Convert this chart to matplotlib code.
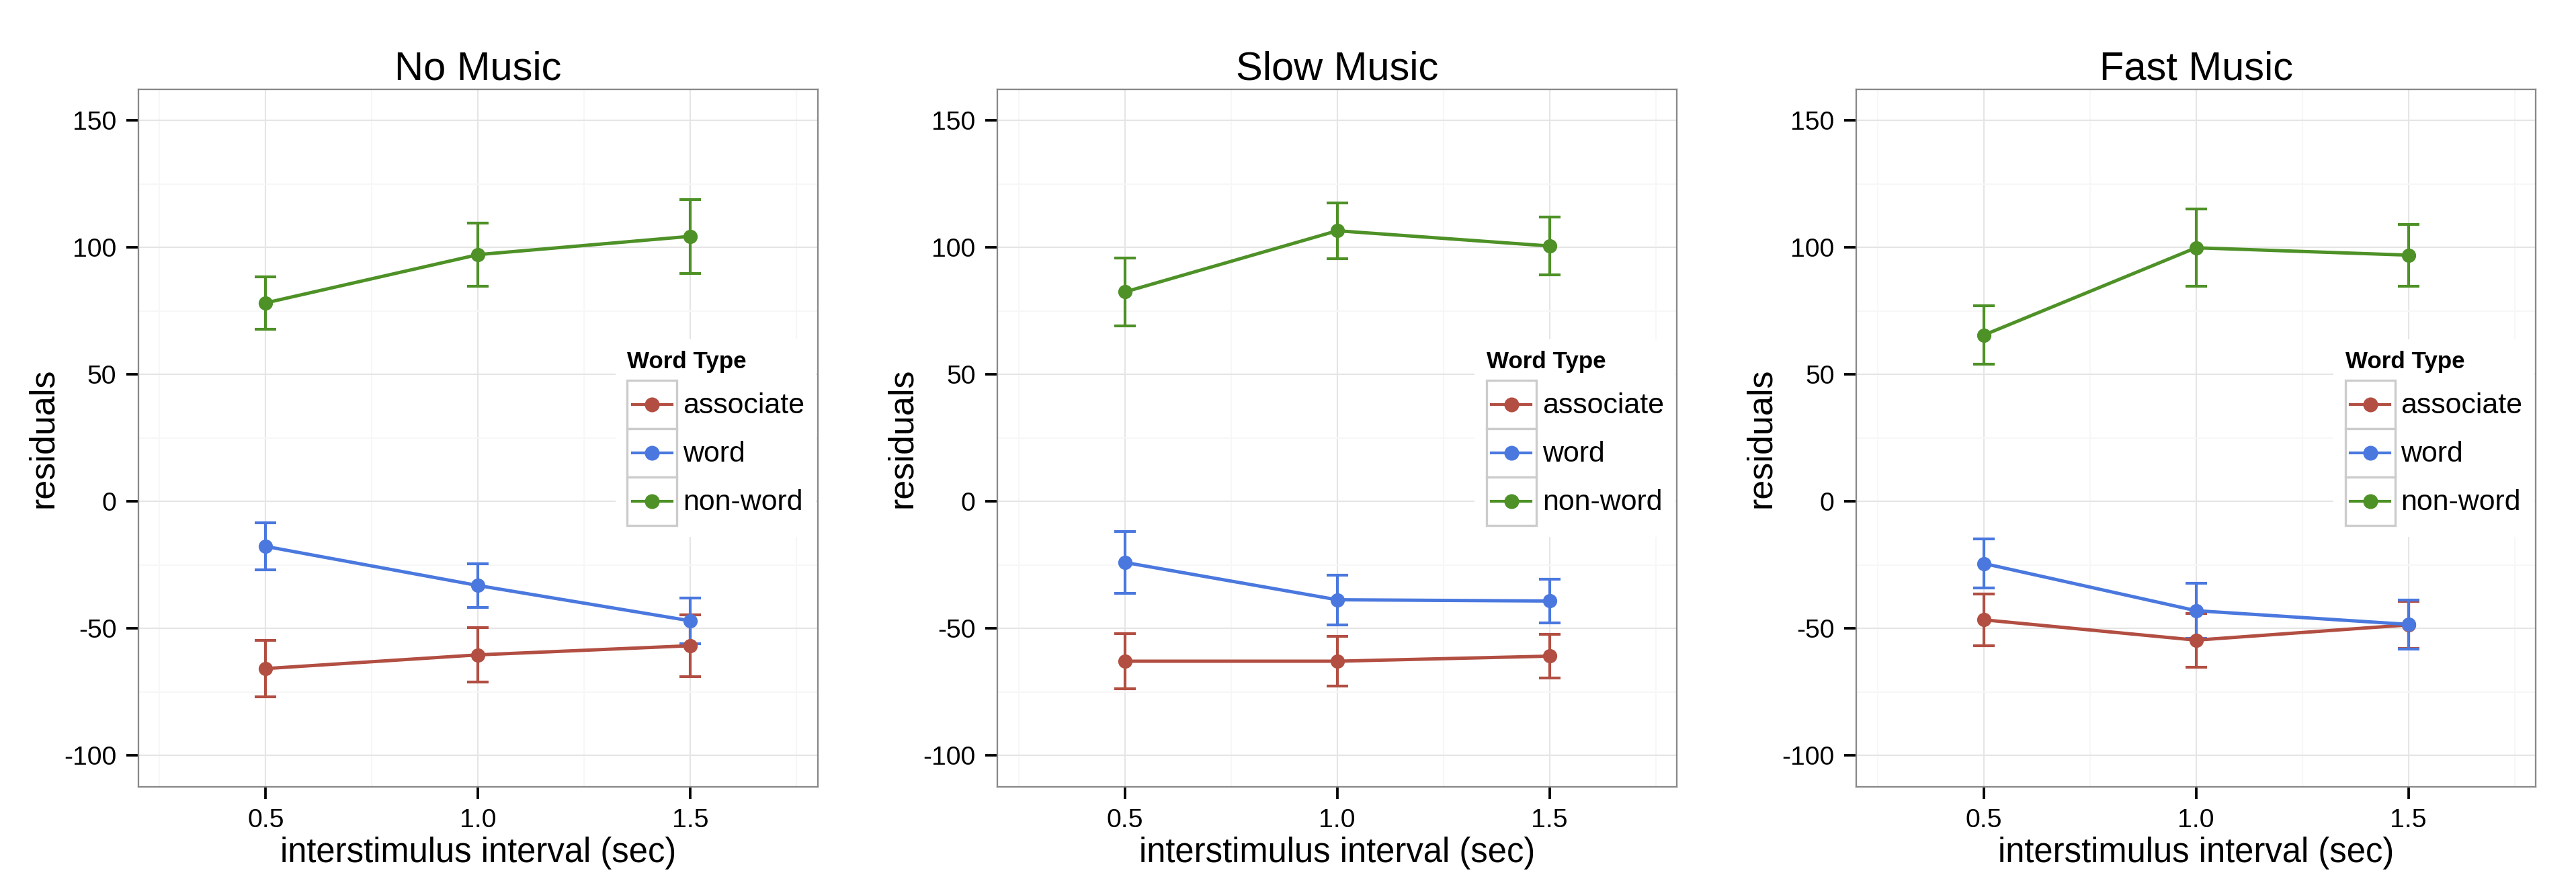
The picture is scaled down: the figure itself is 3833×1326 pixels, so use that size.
import matplotlib
matplotlib.use("Agg")
import matplotlib.pyplot as plt
from matplotlib.legend_handler import HandlerBase
from matplotlib.patches import Rectangle
from matplotlib.lines import Line2D

plt.rcParams['font.family'] = ['Liberation Sans', 'DejaVu Sans']

# data
isi = [0.5, 1.0, 1.5]
word_types = ["associate", "word", "non-word"]
panels = ["No Music", "Slow Music", "Fast Music"]
colors = {"associate": "#B24E42", "word": "#4A78DE", "non-word": "#4E9127"}

no_music_mean = {"associate": [-65.8, -60.4, -56.8],
                 "word": [-17.7, -33.1, -47.0],
                 "non-word": [78.2, 97.2, 104.4]}
no_music_err = {"associate": [11.2, 10.7, 12.2],
                "word": [9.2, 8.5, 9.0],
                "non-word": [10.3, 12.4, 14.6]}

slow_music_mean = {"associate": [-62.9, -62.9, -60.9],
                   "word": [-24.0, -38.7, -39.2],
                   "non-word": [82.5, 106.6, 100.6]}
slow_music_err = {"associate": [10.9, 9.7, 8.5],
                  "word": [12.3, 9.8, 8.5],
                  "non-word": [13.3, 10.9, 11.3]}

fast_music_mean = {"associate": [-46.6, -54.6, -48.6],
                   "word": [-24.4, -43.0, -48.4],
                   "non-word": [65.5, 99.9, 97.0]}
fast_music_err = {"associate": [10.1, 10.6, 9.2],
                  "word": [9.6, 10.8, 9.6],
                  "non-word": [11.5, 15.2, 12.2]}

means = [no_music_mean, slow_music_mean, fast_music_mean]
errs = [no_music_err, slow_music_err, fast_music_err]


class KeyBox(HandlerBase):
    # ggplot-style legend key: grey bordered box with line + point
    def create_artists(self, legend, orig_handle, xdescent, ydescent,
                       width, height, fontsize, trans):
        c = orig_handle.get_color()
        box = Rectangle((-xdescent, -ydescent), width, height, facecolor='white',
                        edgecolor='#cccccc', lw=0.8, transform=trans)
        y = -ydescent + height / 2
        ln = Line2D([-xdescent + width * 0.1, -xdescent + width * 0.9], [y, y],
                    color=c, lw=1.0, transform=trans)
        dot = Line2D([-xdescent + width / 2], [y], marker='o', ms=4.3,
                     color=c, lw=0, transform=trans)
        return [box, ln, dot]


fig = plt.figure(figsize=(3833 / 300, 1326 / 300), dpi=300)
lefts = [0.0537, 0.3872, 0.7206]

for i, name in enumerate(panels):
    ax = fig.add_axes([lefts[i], 0.1171, 0.2638, 0.7824])
    handles = []
    for wt in word_types:
        m = means[i][wt]
        e = errs[i][wt]
        c = colors[wt]
        ax.errorbar(isi, m, yerr=e, fmt='none', ecolor=c, elinewidth=1.0,
                    capsize=3.8, capthick=1.0, zorder=2)
        h, = ax.plot(isi, m, color=c, lw=1.2, zorder=3)
        ax.plot(isi, m, 'o', color=c, ms=4.1, zorder=4)
        handles.append(h)

    ax.set_xlim(0.2, 1.8)
    ax.set_ylim(-112.3, 162.2)
    ax.set_xticks([0.5, 1.0, 1.5])
    ax.set_xticklabels(["0.5", "1.0", "1.5"])
    ax.set_yticks([-100, -50, 0, 50, 100, 150])
    ax.set_yticklabels(["-100", "-50", "0", "50", "100", "150"])
    ax.set_xticks([0.25, 0.75, 1.25, 1.75], minor=True)
    ax.set_yticks([-75, -25, 25, 75, 125], minor=True)
    ax.grid(True, which='major', color='#e5e5e5', lw=0.5)
    ax.grid(True, which='minor', color='#f7f7f7', lw=0.5)
    ax.set_axisbelow(True)
    ax.tick_params(which='major', length=4.4, width=0.9, color='black',
                   labelsize=9.4, pad=3.4)
    ax.tick_params(which='minor', length=0)
    for s in ax.spines.values():
        s.set_color('#888888')
        s.set_linewidth(0.55)

    ax.set_title(name, fontsize=14.3, pad=3.6)
    ax.set_xlabel("interstimulus interval (sec)", fontsize=12.2, labelpad=1.5)
    ax.set_ylabel("residuals", fontsize=12.5, labelpad=1.5)

    leg = ax.legend(handles, word_types, handler_map={Line2D: KeyBox()},
                    title="Word Type", title_fontproperties={'weight': 'bold', 'size': 8.4},
                    alignment='left', fontsize=10.3, loc='center',
                    bbox_to_anchor=(0.850, 0.500), frameon=True, fancybox=False,
                    facecolor='white', edgecolor='white', framealpha=1,
                    handlelength=1.725, handleheight=2.2, labelspacing=0,
                    handletextpad=0.21, borderpad=0.4, borderaxespad=0)
    leg.get_frame().set_linewidth(0)
    leg._legend_box.sep = 2.5
    leg.set_zorder(5)

fig.savefig("out.png", dpi=300)
